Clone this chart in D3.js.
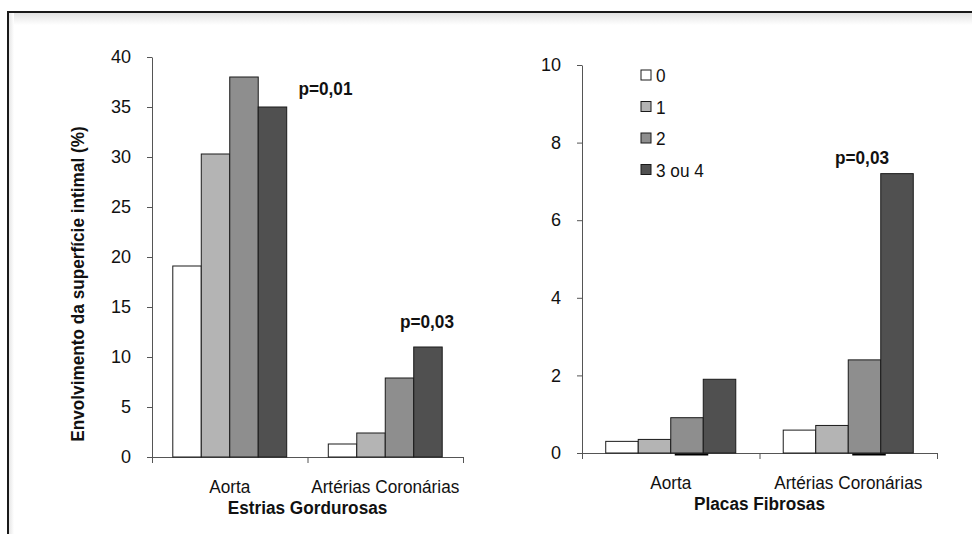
<!DOCTYPE html>
<html>
<head>
<meta charset="utf-8">
<script src="https://cdn.jsdelivr.net/npm/d3@7"></script>
<style>
  body { margin: 0; background: #fff; }
  svg { display: block; font-family: Arial, "Liberation Sans", sans-serif; }
</style>
</head>
<body>
<svg width="972" height="534"></svg>
<script>
(function (d3) {
  'use strict';

  // grau de aterosclerose (legend) and arterial segments
  const series = ['0', '1', '2', '3 ou 4'];
  const categories = ['Aorta', 'Artérias Coronárias'];

  // Estrias Gordurosas: % da superfície intimal, one row per category
  const estriasValues = [
    [19.1, 30.3, 38.0, 35.0],
    [1.3, 2.4, 7.9, 11.0]
  ];
  const estriasTicks = [0, 5, 10, 15, 20, 25, 30, 35, 40];

  // Placas Fibrosas
  const placasValues = [
    [0.3, 0.35, 0.91, 1.9],
    [0.59, 0.71, 2.4, 7.2]
  ];
  const placasTicks = [0, 2, 4, 6, 8, 10];

  const estriasNotes = [
    { category: 'Aorta', text: 'p=0,01' },
    { category: 'Artérias Coronárias', text: 'p=0,03' }
  ];
  const placasNotes = [
    { category: 'Artérias Coronárias', text: 'p=0,03' }
  ];

  const colors = ['#ffffff', '#b4b4b4', '#8e8e8e', '#505050'];
  const axisColor = '#555';
  const squeeze = 0.93; // source font is slightly condensed

  const svg = d3.select('svg');

  // frame with soft shadow, as in the original figure
  const defs = svg.append('defs');
  const gTop = defs.append('linearGradient').attr('id', 'shTop')
    .attr('x1', 0).attr('y1', 0).attr('x2', 0).attr('y2', 1);
  gTop.append('stop').attr('offset', 0).attr('stop-color', '#e2e2e2');
  gTop.append('stop').attr('offset', 1).attr('stop-color', '#fff');
  const gLeft = defs.append('linearGradient').attr('id', 'shLeft')
    .attr('x1', 0).attr('y1', 0).attr('x2', 1).attr('y2', 0);
  gLeft.append('stop').attr('offset', 0).attr('stop-color', '#e6e6e6');
  gLeft.append('stop').attr('offset', 1).attr('stop-color', '#fff');

  svg.append('rect').attr('x', 9).attr('y', 13).attr('width', 963).attr('height', 12)
    .attr('fill', 'url(#shTop)');
  svg.append('rect').attr('x', 9).attr('y', 13).attr('width', 5).attr('height', 521)
    .attr('fill', 'url(#shLeft)');
  svg.append('path')
    .attr('d', 'M8,534V12H972')
    .attr('fill', 'none')
    .attr('stroke', '#1a1a1a')
    .attr('stroke-width', 2);

  const label = (g, x, y, text, opts = {}) => {
    const rot = opts.rotate ? ` rotate(${opts.rotate})` : '';
    return g.append('text')
      .attr('transform', `translate(${x},${y})${rot} scale(${squeeze},1)`)
      .attr('text-anchor', opts.anchor || 'middle')
      .attr('font-size', opts.size || 18.5)
      .attr('font-weight', opts.bold ? 'bold' : 'normal')
      .attr('fill', '#111')
      .text(text);
  };

  const barChart = (g, props) => {
    const { left, right, top, bottom, max, ticks, values, title, titleY,
            catY, notes, underline } = props;

    const x = d3.scaleBand().domain(categories).range([left, right]);
    const xSub = d3.scaleBand().domain(series)
      .range([0, x.bandwidth()]).paddingOuter(0.73);
    const y = d3.scaleLinear().domain([0, max]).range([bottom, top]);

    const yAxis = d3.axisLeft(y)
      .tickValues(ticks)
      .tickSize(5)
      .tickSizeOuter(0)
      .tickPadding(16);
    const yAxisG = g.append('g')
      .attr('transform', `translate(${left},0)`)
      .call(yAxis);
    yAxisG.selectAll('text').attr('font-size', 18).attr('fill', '#111')
      .attr('font-family', 'Arial, "Liberation Sans", sans-serif');

    const xEdge = d3.scaleLinear().domain([0, categories.length]).range([left, right]);
    const xAxisG = g.append('g')
      .attr('transform', `translate(0,${bottom})`)
      .call(d3.axisBottom(xEdge)
        .tickValues(d3.range(categories.length + 1))
        .tickSize(6)
        .tickSizeOuter(0)
        .tickFormat(''));

    [yAxisG, xAxisG].forEach(a => {
      a.select('.domain').attr('stroke', axisColor);
      a.selectAll('.tick line').attr('stroke', axisColor);
    });

    const rows = values.map((row, i) => ({ category: categories[i], row }));
    const group = g.selectAll('.group').data(rows)
      .enter().append('g')
        .attr('class', 'group')
        .attr('transform', d => `translate(${x(d.category)},0)`);

    if (underline) {
      group.append('line')
        .attr('x1', xSub(series[2]) + 4)
        .attr('x2', xSub(series[2]) + xSub.bandwidth() + 5)
        .attr('y1', y(0) + 1.5)
        .attr('y2', y(0) + 1.5)
        .attr('stroke', '#000')
        .attr('stroke-width', 2);
    }

    group.selectAll('rect').data(d => d.row)
      .enter().append('rect')
        .attr('x', (d, i) => xSub(series[i]))
        .attr('y', d => y(d))
        .attr('width', xSub.bandwidth())
        .attr('height', d => y(0) - y(d))
        .attr('fill', (d, i) => colors[i])
        .attr('stroke', '#1a1a1a')
        .attr('stroke-width', 1);

    categories.forEach(c => label(g, x(c) + x.bandwidth() / 2, catY, c));
    label(g, (left + right) / 2, titleY, title, { bold: true });

    notes.forEach(n => {
      const row = values[categories.indexOf(n.category)];
      const last = series[series.length - 1];
      const bx = x(n.category) + xSub(last) + xSub.bandwidth() / 2;
      label(g, bx + n.dx, y(row[row.length - 1]) - n.dy, n.text,
        { bold: true, anchor: n.anchor || 'middle' });
    });

    return { x, y };
  };

  const leftG = svg.append('g');
  barChart(leftG, {
    left: 152, right: 463, top: 57, bottom: 457,
    max: 40, ticks: estriasTicks, values: estriasValues,
    title: 'Estrias Gordurosas', titleY: 514, catY: 493,
    notes: [
      Object.assign({ dx: 26, dy: 12, anchor: 'start' }, estriasNotes[0]),
      Object.assign({ dx: -1, dy: 19 }, estriasNotes[1])
    ],
    underline: false
  });

  label(svg, 84, 284, 'Envolvimento da superfície intimal (%)',
    { bold: true, rotate: -90 });

  const rightG = svg.append('g');
  barChart(rightG, {
    left: 582, right: 937, top: 65, bottom: 453,
    max: 10, ticks: placasTicks, values: placasValues,
    title: 'Placas Fibrosas', titleY: 509.5, catY: 489,
    notes: [Object.assign({ dx: -35, dy: 10 }, placasNotes[0])],
    underline: true
  });

  // legend
  const legend = svg.append('g').attr('transform', 'translate(641,82)');
  const item = legend.selectAll('.item').data(series)
    .enter().append('g')
      .attr('class', 'item')
      .attr('transform', (d, i) => `translate(0,${i * 31.5})`);
  item.append('rect')
    .attr('x', 0).attr('y', -12)
    .attr('width', 10).attr('height', 10)
    .attr('fill', (d, i) => colors[i])
    .attr('stroke', '#1a1a1a')
    .attr('stroke-width', 1);
  item.each(function (d) {
    label(d3.select(this), 15, 0, d, { anchor: 'start' });
  });

}(d3));
</script>
</body>
</html>
